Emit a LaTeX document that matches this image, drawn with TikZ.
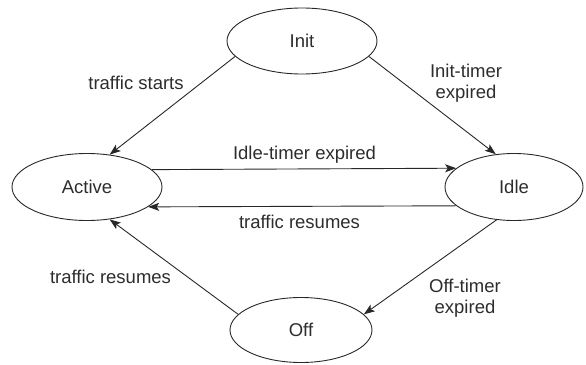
\documentclass[tikz,border=0pt]{standalone}
\usepackage{fontspec}
\setmainfont{Liberation Sans}
\usetikzlibrary{shapes.geometric,arrows.meta}
\definecolor{linecol}{RGB}{40,40,40}
\definecolor{textcol}{RGB}{45,45,45}
\begin{document}
\begin{tikzpicture}[x=1pt,y=-1pt,
  state/.style={ellipse,draw=linecol,line width=0.9pt,inner sep=0pt,text=textcol,
    font=\fontsize{18.5}{22}\selectfont},
  trans/.style={draw=linecol,line width=0.9pt,-{Stealth[length=11pt,width=8pt,inset=2.5pt]}},
  lbl/.style={text=textcol,font=\fontsize{18.5}{22}\selectfont,inner sep=0pt,anchor=base},
  lbltwo/.style={text=textcol,font=\fontsize{18.5}{21.5}\selectfont,inner sep=0pt,align=center}]
\useasboundingbox (0,0) rectangle (586,364);
\node[state,minimum width=150pt,minimum height=66pt] (init) at (302,41) {Init};
\node[state,minimum width=150pt,minimum height=67pt] (active) at (87,187) {Active};
\node[state,minimum width=138pt,minimum height=67pt] (idle) at (514,187) {Idle};
\node[state,minimum width=142pt,minimum height=65pt] (off) at (301,330) {Off};

\draw[trans] (init.193.8) -- (active.55.9);
\draw[trans] (init.347.1) -- (idle.119.2);
\draw[trans] (active.15.92) -- (idle.162.79);
\draw[trans] (idle.198.49) -- (active.342.91);
\draw[trans] (idle.242.7) -- (off.14.9);
\draw[trans] (off.166.2) -- (active.305.5);

\node[lbl] (lstarts) at (136,89.3) {traffic starts};
\node[lbl] (lidle) at (304.5,159.5) {Idle-timer expired};
\node[lbl] (lresa) at (299.5,228) {traffic resumes};
\node[lbl] (lresb) at (110.5,283) {traffic resumes};
\node[lbltwo] (linit) at (466,83) {Init-timer\\expired};
\node[lbltwo] (loff) at (465,298.3) {Off-timer\\expired};
\end{tikzpicture}
\end{document}
